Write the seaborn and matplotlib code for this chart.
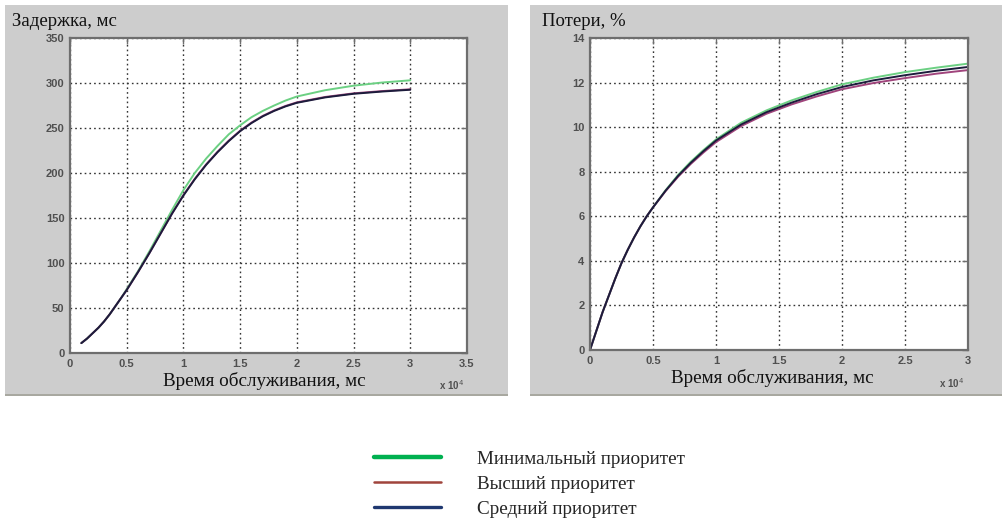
import numpy as np
import pandas as pd
import matplotlib
matplotlib.use("Agg")
import matplotlib.pyplot as plt
from matplotlib.lines import Line2D
from matplotlib.patches import Rectangle
import seaborn as sns

# ---------------- data ----------------
series_names = ["Минимальный приоритет", "Высший приоритет", "Средний приоритет"]

delay_x = [1000, 1500, 2000, 2500, 3000, 3500, 4000, 4500, 5000, 6000, 7000, 8000,
           9000, 10000, 11000, 12000, 13000, 14000, 15000, 16000, 17000, 18000,
           19000, 20000, 22500, 25000, 27500, 30000]
delay_min = [11, 16, 22, 28, 35, 43, 52, 61, 71, 91, 113, 136,
             159, 181, 200, 216, 230, 243, 253, 262, 269, 275,
             280.5, 285, 292, 297, 300.5, 303]
delay_high = [11, 16, 22, 28, 35, 43, 52, 61, 70, 90, 111, 133,
              155, 175.5, 193.5, 209.5, 223.5, 236, 247, 256, 263.5, 269.5,
              274.5, 278.5, 284.5, 288.5, 291, 293]
delay_mid = [11, 16, 22, 28, 35, 43, 52, 61, 70, 90, 111, 133,
             155, 175, 193, 209, 223, 235.5, 246.5, 255.5, 263, 269,
             274, 278, 284, 288, 290.5, 292.5]

loss_x = [0, 500, 1000, 1500, 2000, 2500, 3000, 3500, 4000, 4500, 5000,
          6000, 7000, 8000, 9000, 10000, 12000, 14000, 16000, 18000,
          20000, 22500, 25000, 27500, 30000]
loss_min = [0, 0.85, 1.7, 2.45, 3.2, 3.9, 4.5, 5.05, 5.55, 6.0, 6.4,
            7.17, 7.86, 8.45, 8.97, 9.45, 10.2, 10.75, 11.2, 11.58,
            11.92, 12.22, 12.47, 12.67, 12.85]
loss_high = [0, 0.85, 1.7, 2.45, 3.2, 3.9, 4.5, 5.05, 5.55, 6.0, 6.4,
             7.13, 7.78, 8.35, 8.86, 9.33, 10.05, 10.6, 11.02, 11.38,
             11.7, 11.98, 12.2, 12.4, 12.56]
loss_mid = [0, 0.85, 1.7, 2.45, 3.2, 3.9, 4.5, 5.05, 5.55, 6.0, 6.4,
            7.15, 7.82, 8.4, 8.92, 9.4, 10.12, 10.67, 11.1, 11.48,
            11.8, 12.1, 12.33, 12.53, 12.7]

delay_xticks = [0, 5000, 10000, 15000, 20000, 25000, 30000, 35000]
delay_xticklabels = ["0", "0.5", "1", "1.5", "2", "2.5", "3", "3.5"]
delay_yticks = [0, 50, 100, 150, 200, 250, 300, 350]
loss_xticks = [0, 5000, 10000, 15000, 20000, 25000, 30000]
loss_xticklabels = ["0", "0.5", "1", "1.5", "2", "2.5", "3"]
loss_yticks = [0, 2, 4, 6, 8, 10, 12, 14]

plot_colors = {"Минимальный приоритет": "#6cd083",
               "Высший приоритет": "#a0447c",
               "Средний приоритет": "#1c1c3c"}
legend_colors = ["#00b050", "#a0443c", "#1f3870"]
legend_widths = [3.2, 1.8, 2.4]

delay_df = pd.concat([
    pd.DataFrame({"x": delay_x, "y": delay_min, "s": series_names[0]}),
    pd.DataFrame({"x": delay_x, "y": delay_high, "s": series_names[1]}),
    pd.DataFrame({"x": delay_x, "y": delay_mid, "s": series_names[2]}),
])
loss_df = pd.concat([
    pd.DataFrame({"x": loss_x, "y": loss_min, "s": series_names[0]}),
    pd.DataFrame({"x": loss_x, "y": loss_high, "s": series_names[1]}),
    pd.DataFrame({"x": loss_x, "y": loss_mid, "s": series_names[2]}),
])

# ---------------- figure ----------------
sns.set_style("white")
plt.rcParams["font.family"] = ["Liberation Serif", "DejaVu Serif"]

W, H = 1003, 522
fig = plt.figure(figsize=(W / 100, H / 100), dpi=100)
fig.patch.set_facecolor("white")

def fx(px):
    return px / W

def fy(py):
    return 1 - py / H

# gray panel backgrounds
for (x0, x1) in [(5, 508), (530, 1003)]:
    fig.patches.append(Rectangle((fx(x0), fy(395)), fx(x1) - fx(x0), fy(5) - fy(395),
                                 transform=fig.transFigure, facecolor="#cdcdcd",
                                 edgecolor="none", zorder=-10))
    fig.patches.append(Rectangle((fx(x0), fy(396)), fx(x1) - fx(x0), 2 / H,
                                 transform=fig.transFigure, facecolor="#a8a8a0",
                                 edgecolor="none", zorder=-10))

ax1 = fig.add_axes([fx(70), fy(353), fx(467) - fx(70), fy(38) - fy(353)])
ax2 = fig.add_axes([fx(590), fy(350), fx(968) - fx(590), fy(38) - fy(350)])

def style_axes(ax):
    ax.set_facecolor("white")
    for sp in ax.spines.values():
        sp.set_color("#6e6e6e")
        sp.set_linewidth(1.6)
    ax.grid(True, linestyle=(0, (1.2, 2.2)), color="#333333", linewidth=1.0)
    ax.tick_params(direction="in", length=4, width=1, colors="#6e6e6e",
                   labelcolor="#505050", labelsize=8, pad=4,
                   top=True, right=True)
    for lab in ax.get_xticklabels() + ax.get_yticklabels():
        lab.set_family(["Liberation Sans", "DejaVu Sans"])
        lab.set_fontweight("bold")

sns.lineplot(data=delay_df, x="x", y="y", hue="s", palette=plot_colors,
             linewidth=1.4, ax=ax1, legend=False, sort=False)
sns.lineplot(data=loss_df, x="x", y="y", hue="s", palette=plot_colors,
             linewidth=1.4, ax=ax2, legend=False, sort=False)

ax1.set_xlim(0, 35000)
ax1.set_ylim(0, 350)
ax1.set_xticks(delay_xticks)
ax1.set_xticklabels(delay_xticklabels)
ax1.set_yticks(delay_yticks)
ax1.set_yticklabels([str(v) for v in delay_yticks])

ax2.set_xlim(0, 30000)
ax2.set_ylim(0, 14)
ax2.set_xticks(loss_xticks)
ax2.set_xticklabels(loss_xticklabels)
ax2.set_yticks(loss_yticks)
ax2.set_yticklabels([str(v) for v in loss_yticks])

for ax in (ax1, ax2):
    ax.set_xlabel("")
    ax.set_ylabel("")
    style_axes(ax)

# titles / labels
fig.text(fx(12), fy(22), "Задержка, мс", fontsize=13.5, ha="left", va="center", color="#111111")
fig.text(fx(542), fy(22), "Потери, %", fontsize=13.5, ha="left", va="center", color="#111111")
fig.text(fx(264), fy(381), "Время обслуживания, мс", fontsize=13.8, ha="center", va="center", color="#111111")
fig.text(fx(772), fy(378), "Время обслуживания, мс", fontsize=13.8, ha="center", va="center", color="#111111")
for xpos, ypos in [(452, 385), (952, 383)]:
    fig.text(fx(xpos), fy(ypos), r"x 10$^{4}$", fontsize=7, ha="center", va="center",
             color="#505050", family=["Liberation Sans", "DejaVu Sans"], fontweight="bold")

# legend
handles = [Line2D([0], [0], color=c, linewidth=w, solid_capstyle="round")
           for c, w in zip(legend_colors, legend_widths)]
leg = fig.legend(handles, series_names, loc="center left",
                 bbox_to_anchor=(fx(364), fy(484)), frameon=False,
                 fontsize=13.8, handlelength=3.5, handletextpad=1.9,
                 labelspacing=0.40, borderpad=0)

fig.savefig("out.png", dpi=100, facecolor="white")
